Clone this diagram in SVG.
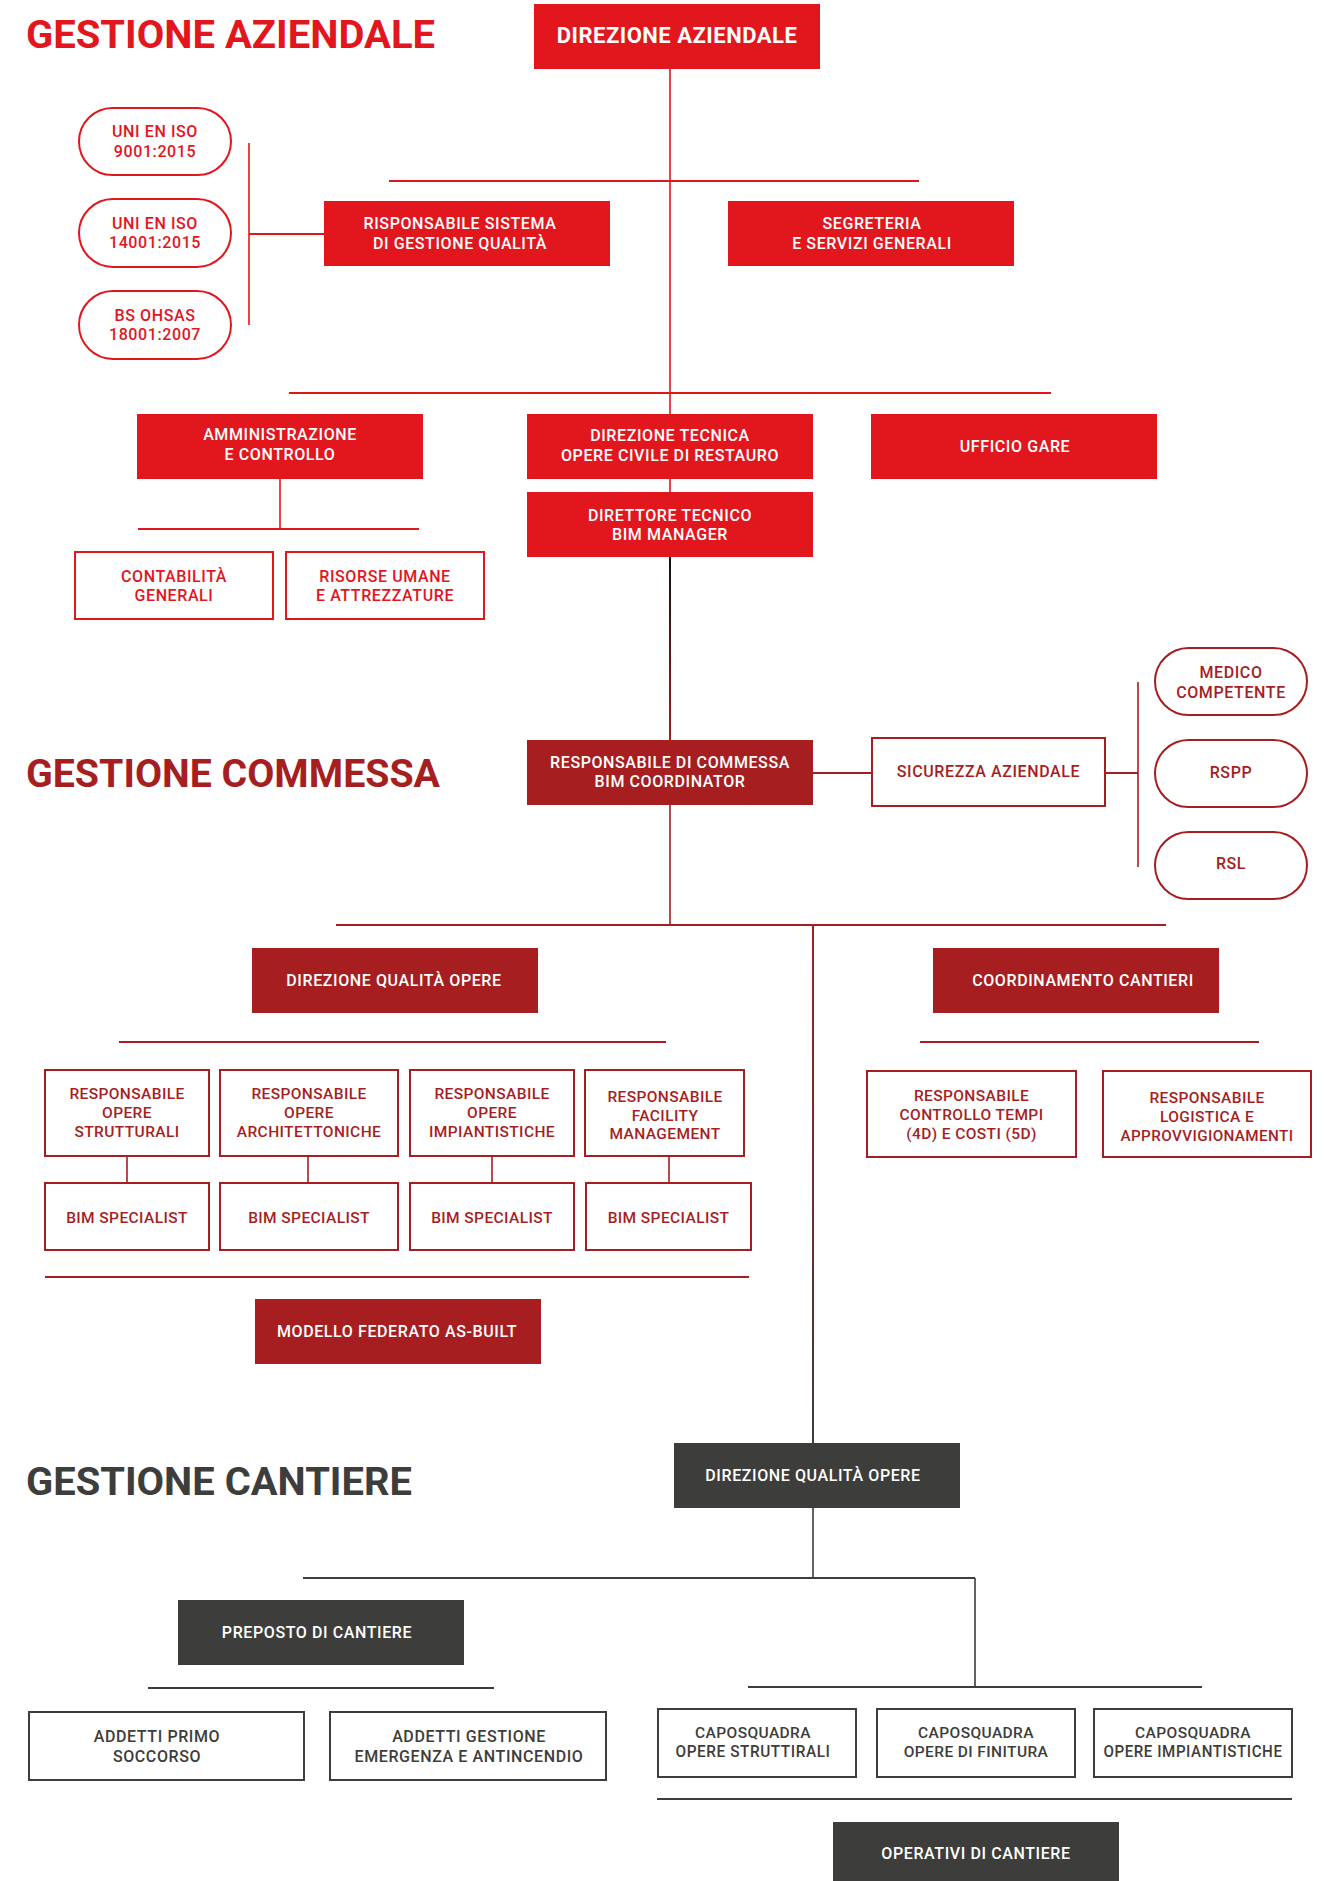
<svg xmlns="http://www.w3.org/2000/svg" width="1332" height="1881" viewBox="0 0 1332 1881">
<defs>
<style>
.fr{fill:#e2161d}.fd{fill:#a61e1f}.fg{fill:#3d3d3b}
.or{fill:#fff;stroke:#e2161d;stroke-width:2}.od{fill:#fff;stroke:#a61e1f;stroke-width:2}.og{fill:#fff;stroke:#3d3d3b;stroke-width:2}
.t{font-family:Roboto,'Liberation Sans',sans-serif;font-size:16px;font-weight:500;letter-spacing:0.6px;text-anchor:middle}
.s{font-size:15.5px;letter-spacing:0.4px}
.tw{fill:#fff}.tr{fill:#e2161d}.td{fill:#a61e1f}.tg{fill:#3d3d3b}
.big{font-size:22px;font-weight:700;letter-spacing:0.5px}
.h{font-family:Roboto,'Liberation Sans',sans-serif;font-size:38px;font-weight:700}
.lr{stroke:#e2161d;fill:none}.ld{stroke:#a61e1f;fill:none}.lg{stroke:#3d3d3b;fill:none}
.v{stroke-width:1.6}.hz{stroke-width:2.2}
</style>
<linearGradient id="g1" gradientUnits="userSpaceOnUse" x1="0" y1="557" x2="0" y2="740">
<stop offset="0" stop-color="#111"/><stop offset="1" stop-color="#a61e1f"/>
</linearGradient>
<linearGradient id="g2" gradientUnits="userSpaceOnUse" x1="0" y1="925" x2="0" y2="1443">
<stop offset="0" stop-color="#a61e1f"/><stop offset="1" stop-color="#3d3d3b"/>
</linearGradient>
</defs>
<rect width="1332" height="1881" fill="#fff"/>

<g id="titles">
<text class="h" x="26" y="48" fill="#e2161d" textLength="409" lengthAdjust="spacingAndGlyphs">GESTIONE AZIENDALE</text>
<text class="h" x="26" y="787" fill="#a61e1f" textLength="414" lengthAdjust="spacingAndGlyphs">GESTIONE COMMESSA</text>
<text class="h" x="26" y="1495" fill="#3d3d3b" textLength="386" lengthAdjust="spacingAndGlyphs">GESTIONE CANTIERE</text>
</g>

<g id="connectors">
<path class="lr v" d="M670 69V414M670 479V492M249 143V325M280 479V529"/>
<path class="lr hz" d="M389 181H919M289 393H1051M249 234H324M138 529H419"/>
<path d="M670 557V740" stroke="url(#g1)" stroke-width="2" fill="none"/>
<path class="ld v" d="M1138 682V867M670 805V925M127 1156V1183M308 1156V1183M492 1156V1183M669 1156V1183"/>
<path class="ld hz" d="M813 773H872M1105 773H1138M336 925H1166M119 1042H666M920 1042H1259M45 1277H749"/>
<path d="M813 925V1443" stroke="url(#g2)" stroke-width="2" fill="none"/>
<path class="lg v" d="M813 1508V1578M975 1578V1687"/>
<path class="lg hz" d="M303 1578H975M148 1688H494M748 1687H1202M657 1799H1292"/>
</g>

<g id="direzione-aziendale"><rect class="fr" x="534" y="4" width="286" height="65"/><text class="t tw big" x="677" y="43">DIREZIONE AZIENDALE</text></g>
<g id="uni-9001"><rect class="or" x="79" y="108" width="152" height="67" rx="33.5"/><text class="t tr" x="155" y="137">UNI EN ISO</text><text class="t tr" x="155" y="157">9001:2015</text></g>
<g id="uni-14001"><rect class="or" x="79" y="199" width="152" height="68" rx="34"/><text class="t tr" x="155" y="229">UNI EN ISO</text><text class="t tr" x="155" y="248">14001:2015</text></g>
<g id="bs-ohsas"><rect class="or" x="79" y="291" width="152" height="68" rx="34"/><text class="t tr" x="155" y="321">BS OHSAS</text><text class="t tr" x="155" y="340">18001:2007</text></g>
<g id="risponsabile-sistema"><rect class="fr" x="324" y="201" width="286" height="65"/><text class="t tw" x="460" y="229">RISPONSABILE SISTEMA</text><text class="t tw" x="460" y="249">DI GESTIONE QUALITÀ</text></g>
<g id="segreteria"><rect class="fr" x="728" y="201" width="286" height="65"/><text class="t tw" x="872" y="229">SEGRETERIA</text><text class="t tw" x="872" y="249">E SERVIZI GENERALI</text></g>
<g id="amministrazione"><rect class="fr" x="137" y="414" width="286" height="65"/><text class="t tw" x="280" y="440">AMMINISTRAZIONE</text><text class="t tw" x="280" y="460">E CONTROLLO</text></g>
<g id="direzione-tecnica"><rect class="fr" x="527" y="414" width="286" height="65"/><text class="t tw" x="670" y="441">DIREZIONE TECNICA</text><text class="t tw" x="670" y="461">OPERE CIVILE DI RESTAURO</text></g>
<g id="ufficio-gare"><rect class="fr" x="871" y="414" width="286" height="65"/><text class="t tw" x="1015" y="452">UFFICIO GARE</text></g>
<g id="direttore-tecnico"><rect class="fr" x="527" y="492" width="286" height="65"/><text class="t tw" x="670" y="521">DIRETTORE TECNICO</text><text class="t tw" x="670" y="540">BIM MANAGER</text></g>
<g id="contabilita"><rect class="or" x="75" y="552" width="198" height="67"/><text class="t tr" x="174" y="582">CONTABILITÀ</text><text class="t tr" x="174" y="601">GENERALI</text></g>
<g id="risorse-umane"><rect class="or" x="286" y="552" width="198" height="67"/><text class="t tr" x="385" y="582">RISORSE UMANE</text><text class="t tr" x="385" y="601">E ATTREZZATURE</text></g>

<g id="responsabile-commessa"><rect class="fd" x="527" y="740" width="286" height="65"/><text class="t tw" x="670" y="768">RESPONSABILE DI COMMESSA</text><text class="t tw" x="670" y="787">BIM COORDINATOR</text></g>
<g id="sicurezza-aziendale"><rect class="od" x="872" y="738" width="233" height="68"/><text class="t td" x="988.5" y="777">SICUREZZA AZIENDALE</text></g>
<g id="medico-competente"><rect class="od" x="1155" y="648" width="152" height="67" rx="33.5"/><text class="t td" x="1231" y="678">MEDICO</text><text class="t td" x="1231" y="698">COMPETENTE</text></g>
<g id="rspp"><rect class="od" x="1155" y="740" width="152" height="67" rx="33.5"/><text class="t td" x="1231" y="778">RSPP</text></g>
<g id="rsl"><rect class="od" x="1155" y="832" width="152" height="67" rx="33.5"/><text class="t td" x="1231" y="869">RSL</text></g>
<g id="direzione-qualita-opere-commessa"><rect class="fd" x="252" y="948" width="286" height="65"/><text class="t tw" x="394" y="986">DIREZIONE QUALITÀ OPERE</text></g>
<g id="coordinamento-cantieri"><rect class="fd" x="933" y="948" width="286" height="65"/><text class="t tw" x="1083" y="986">COORDINAMENTO CANTIERI</text></g>
<g id="resp-strutturali"><rect class="od" x="45" y="1070" width="164" height="86"/><text class="t s td" x="127" y="1099">RESPONSABILE</text><text class="t s td" x="127" y="1118">OPERE</text><text class="t s td" x="127" y="1137">STRUTTURALI</text></g>
<g id="resp-architettoniche"><rect class="od" x="220" y="1070" width="178" height="86"/><text class="t s td" x="309" y="1099">RESPONSABILE</text><text class="t s td" x="309" y="1118">OPERE</text><text class="t s td" x="309" y="1137">ARCHITETTONICHE</text></g>
<g id="resp-impiantistiche"><rect class="od" x="410" y="1070" width="164" height="86"/><text class="t s td" x="492" y="1099">RESPONSABILE</text><text class="t s td" x="492" y="1118">OPERE</text><text class="t s td" x="492" y="1137">IMPIANTISTICHE</text></g>
<g id="resp-facility"><rect class="od" x="585" y="1070" width="159" height="86"/><text class="t s td" x="665" y="1102">RESPONSABILE</text><text class="t s td" x="665" y="1121">FACILITY</text><text class="t s td" x="665" y="1139">MANAGEMENT</text></g>
<g id="bim-specialist-1"><rect class="od" x="45" y="1183" width="164" height="67"/><text class="t s td" x="127" y="1223">BIM SPECIALIST</text></g>
<g id="bim-specialist-2"><rect class="od" x="220" y="1183" width="178" height="67"/><text class="t s td" x="309" y="1223">BIM SPECIALIST</text></g>
<g id="bim-specialist-3"><rect class="od" x="410" y="1183" width="164" height="67"/><text class="t s td" x="492" y="1223">BIM SPECIALIST</text></g>
<g id="bim-specialist-4"><rect class="od" x="586" y="1183" width="165" height="67"/><text class="t s td" x="668.5" y="1223">BIM SPECIALIST</text></g>
<g id="modello-federato"><rect class="fd" x="255" y="1299" width="286" height="65"/><text class="t tw" x="397" y="1337">MODELLO FEDERATO AS-BUILT</text></g>
<g id="resp-controllo-tempi"><rect class="od" x="867" y="1071" width="209" height="86"/><text class="t s td" x="971.5" y="1101">RESPONSABILE</text><text class="t s td" x="971.5" y="1120">CONTROLLO TEMPI</text><text class="t s td" x="971.5" y="1139">(4D) E COSTI (5D)</text></g>
<g id="resp-logistica"><rect class="od" x="1103" y="1071" width="208" height="86"/><text class="t s td" x="1207" y="1103">RESPONSABILE</text><text class="t s td" x="1207" y="1122">LOGISTICA E</text><text class="t s td" x="1207" y="1141" textLength="173" lengthAdjust="spacingAndGlyphs">APPROVVIGIONAMENTI</text></g>

<g id="direzione-qualita-opere-cantiere"><rect class="fg" x="674" y="1443" width="286" height="65"/><text class="t tw" x="813" y="1481">DIREZIONE QUALITÀ OPERE</text></g>
<g id="preposto-cantiere"><rect class="fg" x="178" y="1600" width="286" height="65"/><text class="t tw" x="317" y="1638">PREPOSTO DI CANTIERE</text></g>
<g id="addetti-primo-soccorso"><rect class="og" x="29" y="1712" width="275" height="68"/><text class="t tg" x="157" y="1742">ADDETTI PRIMO</text><text class="t tg" x="157" y="1762">SOCCORSO</text></g>
<g id="addetti-emergenza"><rect class="og" x="330" y="1712" width="276" height="68"/><text class="t tg" x="469" y="1742">ADDETTI GESTIONE</text><text class="t tg" x="469" y="1762" textLength="229" lengthAdjust="spacingAndGlyphs">EMERGENZA E ANTINCENDIO</text></g>
<g id="caposquadra-strutturali"><rect class="og" x="658" y="1709" width="198" height="68"/><text class="t s tg" x="753" y="1738">CAPOSQUADRA</text><text class="t tg" x="753" y="1757" textLength="155" lengthAdjust="spacingAndGlyphs">OPERE STRUTTIRALI</text></g>
<g id="caposquadra-finitura"><rect class="og" x="877" y="1709" width="198" height="68"/><text class="t s tg" x="976" y="1738">CAPOSQUADRA</text><text class="t s tg" x="976" y="1757">OPERE DI FINITURA</text></g>
<g id="caposquadra-impiantistiche"><rect class="og" x="1094" y="1709" width="198" height="68"/><text class="t s tg" x="1193" y="1738">CAPOSQUADRA</text><text class="t tg" x="1193" y="1757" textLength="179" lengthAdjust="spacingAndGlyphs">OPERE IMPIANTISTICHE</text></g>
<g id="operativi-cantiere"><rect class="fg" x="833" y="1822" width="286" height="70"/><text class="t tw" x="976" y="1859">OPERATIVI DI CANTIERE</text></g>
</svg>
